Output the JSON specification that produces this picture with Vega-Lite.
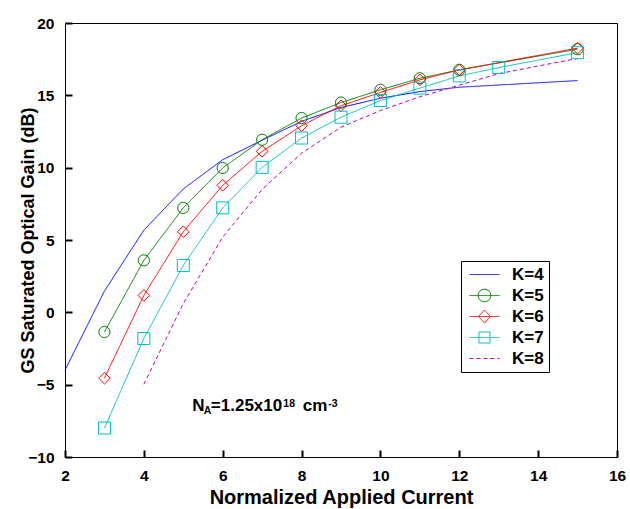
{
  "$schema": "https://vega.github.io/schema/vega-lite/v6.json",
  "width": 552,
  "height": 434,
  "autosize": {"type": "none"},
  "padding": {"left": 65, "top": 23, "right": 13, "bottom": 52},
  "background": "white",
  "config": {
    "view": {"stroke": "black", "strokeWidth": 1},
    "axis": {
      "grid": false,
      "domain": false,
      "labelFlush": false,
      "labelFont": "Liberation Sans",
      "labelFontWeight": "bold",
      "labelFontSize": 15.5,
      "labelColor": "black",
      "titleFont": "Liberation Sans",
      "titleFontWeight": "bold",
      "titleColor": "black"
    }
  },
  "datasets": {
    "curves": [
      {"K": "K=4", "x": 2, "y": -4.0},
      {"K": "K=4", "x": 3, "y": 1.47},
      {"K": "K=4", "x": 4, "y": 5.68},
      {"K": "K=4", "x": 5, "y": 8.53},
      {"K": "K=4", "x": 6, "y": 10.55},
      {"K": "K=4", "x": 7, "y": 11.9},
      {"K": "K=4", "x": 8, "y": 13.2},
      {"K": "K=4", "x": 9, "y": 14.16},
      {"K": "K=4", "x": 10, "y": 14.8},
      {"K": "K=4", "x": 11, "y": 15.26},
      {"K": "K=4", "x": 12, "y": 15.56},
      {"K": "K=4", "x": 15, "y": 16.02},
      {"K": "K=5", "x": 3, "y": -1.36},
      {"K": "K=5", "x": 4, "y": 3.59},
      {"K": "K=5", "x": 5, "y": 7.22},
      {"K": "K=5", "x": 6, "y": 9.98},
      {"K": "K=5", "x": 7, "y": 11.93},
      {"K": "K=5", "x": 8, "y": 13.43},
      {"K": "K=5", "x": 9, "y": 14.5},
      {"K": "K=5", "x": 10, "y": 15.38},
      {"K": "K=5", "x": 11, "y": 16.18},
      {"K": "K=5", "x": 12, "y": 16.76},
      {"K": "K=5", "x": 15, "y": 18.19},
      {"K": "K=6", "x": 3, "y": -4.55},
      {"K": "K=6", "x": 4, "y": 1.17},
      {"K": "K=6", "x": 5, "y": 5.57},
      {"K": "K=6", "x": 6, "y": 8.78},
      {"K": "K=6", "x": 7, "y": 11.13},
      {"K": "K=6", "x": 8, "y": 12.9},
      {"K": "K=6", "x": 9, "y": 14.28},
      {"K": "K=6", "x": 10, "y": 15.2},
      {"K": "K=6", "x": 11, "y": 16.07},
      {"K": "K=6", "x": 12, "y": 16.76},
      {"K": "K=6", "x": 15, "y": 18.26},
      {"K": "K=7", "x": 3, "y": -8.0},
      {"K": "K=7", "x": 4, "y": -1.81},
      {"K": "K=7", "x": 5, "y": 3.24},
      {"K": "K=7", "x": 6, "y": 7.22},
      {"K": "K=7", "x": 7, "y": 10.02},
      {"K": "K=7", "x": 8, "y": 12.05},
      {"K": "K=7", "x": 9, "y": 13.49},
      {"K": "K=7", "x": 10, "y": 14.64},
      {"K": "K=7", "x": 11, "y": 15.5},
      {"K": "K=7", "x": 12, "y": 16.34},
      {"K": "K=7", "x": 13, "y": 16.92},
      {"K": "K=7", "x": 15, "y": 17.95},
      {"K": "K=8", "x": 4, "y": -4.97},
      {"K": "K=8", "x": 5, "y": 0.6},
      {"K": "K=8", "x": 6, "y": 5.2},
      {"K": "K=8", "x": 7, "y": 8.5},
      {"K": "K=8", "x": 8, "y": 11.0},
      {"K": "K=8", "x": 9, "y": 12.8},
      {"K": "K=8", "x": 10, "y": 13.95},
      {"K": "K=8", "x": 11, "y": 14.9},
      {"K": "K=8", "x": 12, "y": 15.7},
      {"K": "K=8", "x": 13, "y": 16.5},
      {"K": "K=8", "x": 15, "y": 17.55}
    ],
    "note": [
      {"x": 5.23, "y": -6.85, "n": "N", "a": "A", "v": "=1.25x10", "e": "18", "u": "cm", "m": "-3"}
    ]
  },
  "layer": [
    {
      "data": {"name": "curves"},
      "mark": {"type": "line", "strokeWidth": 1},
      "encoding": {
        "x": {"field": "x", "type": "quantitative",
              "scale": {"domain": [2, 16], "nice": false, "zero": false},
              "axis": {"orient": "bottom", "values": [2, 4, 6, 8, 10, 12, 14, 16], "title": "Normalized Applied Current",
                       "titleFontSize": 20, "labelPadding": 18, "titlePadding": 4,
                       "ticks": true, "tickSize": -7, "tickWidth": 2, "tickColor": "#000000", "tickOpacity": 1}},
        "y": {"field": "y", "type": "quantitative",
              "scale": {"domain": [-10, 20], "nice": false, "zero": false},
              "axis": {"orient": "left", "values": [-10, -5, 0, 5, 10, 15, 20], "title": "GS Saturated Optical Gain (dB)",
                       "titleFontSize": 18, "labelPadding": 18, "titlePadding": -10,
                       "ticks": true, "tickSize": -7, "tickWidth": 2, "tickColor": "#000000", "tickOpacity": 1}},
        "color": {"field": "K", "type": "nominal",
                  "scale": {"domain": ["K=4", "K=5", "K=6", "K=7", "K=8"], "range": ["#0000ff", "#008000", "#ff0000", "#00bfbf", "#bf00bf"]},
                  "legend": {
                    "orient": "none", "legendX": 396, "legendY": 238, "title": null,
                    "padding": 5, "strokeColor": "black", "fillColor": "white",
                    "labelFont": "Liberation Sans", "labelFontSize": 17, "labelFontWeight": "bold", "labelColor": "black",
                    "symbolSize": 144, "symbolOffset": 10, "labelOffset": 19, "rowPadding": 3,
                    "encode": {
                      "symbols": {
                        "update": {
                          "shape": {"signal": "datum.value === 'K=5' ? 'M-2.5,0H2.5M1.05,0A1.05,1.05,0,1,1,-1.05,0A1.05,1.05,0,1,1,1.05,0' : datum.value === 'K=6' ? 'M-2.5,0H2.5M0,-1.08L1,0L0,1.08L-1,0Z' : datum.value === 'K=7' ? 'M-2.5,0H2.5M-0.92,-0.92H0.92V0.92H-0.92Z' : 'M-2.5,0H2.5'"},
                          "strokeDash": {"signal": "datum.value === 'K=8' ? [4, 3] : [1, 0]"},
                          "fill": {"value": "transparent"},
                          "stroke": {"scale": "color", "field": "value"},
                          "strokeWidth": {"value": 1},
                          "opacity": {"value": 1}
                        }
                      }
                    }
                  }},
        "strokeDash": {"field": "K", "type": "nominal",
                       "scale": {"domain": ["K=4", "K=5", "K=6", "K=7", "K=8"], "range": [[1, 0], [1, 0], [1, 0], [1, 0], [4, 3]]},
                       "legend": null}
      }
    },
    {
      "data": {"name": "curves"},
      "transform": [{"filter": "datum.K === 'K=5' || datum.K === 'K=6' || datum.K === 'K=7'"}],
      "mark": {"type": "point", "filled": false, "strokeWidth": 1, "opacity": 1},
      "encoding": {
        "x": {"field": "x", "type": "quantitative"},
        "y": {"field": "y", "type": "quantitative"},
        "color": {"field": "K", "type": "nominal", "legend": null},
        "shape": {"field": "K", "type": "nominal",
                  "scale": {"domain": ["K=5", "K=6", "K=7"], "range": ["circle", "diamond", "square"]}, "legend": null},
        "size": {"field": "K", "type": "nominal",
                 "scale": {"domain": ["K=5", "K=6", "K=7"], "range": [126, 144, 121]}, "legend": null}
      }
    },
    {
      "data": {"name": "note"},
      "mark": {"type": "text", "align": "left", "baseline": "alphabetic", "font": "Liberation Sans", "fontWeight": "bold", "fontSize": 17, "color": "black"},
      "encoding": {"x": {"field": "x", "type": "quantitative"}, "y": {"field": "y", "type": "quantitative"}, "text": {"field": "n"}}
    },
    {
      "data": {"name": "note"},
      "mark": {"type": "text", "align": "left", "baseline": "alphabetic", "font": "Liberation Sans", "fontWeight": "bold", "fontSize": 10.5, "dx": 11.5, "dy": 3, "color": "black"},
      "encoding": {"x": {"field": "x", "type": "quantitative"}, "y": {"field": "y", "type": "quantitative"}, "text": {"field": "a"}}
    },
    {
      "data": {"name": "note"},
      "mark": {"type": "text", "align": "left", "baseline": "alphabetic", "font": "Liberation Sans", "fontWeight": "bold", "fontSize": 17, "dx": 18.5, "color": "black"},
      "encoding": {"x": {"field": "x", "type": "quantitative"}, "y": {"field": "y", "type": "quantitative"}, "text": {"field": "v"}}
    },
    {
      "data": {"name": "note"},
      "mark": {"type": "text", "align": "left", "baseline": "alphabetic", "font": "Liberation Sans", "fontWeight": "bold", "fontSize": 10.5, "dx": 91, "dy": -4.5, "color": "black"},
      "encoding": {"x": {"field": "x", "type": "quantitative"}, "y": {"field": "y", "type": "quantitative"}, "text": {"field": "e"}}
    },
    {
      "data": {"name": "note"},
      "mark": {"type": "text", "align": "left", "baseline": "alphabetic", "font": "Liberation Sans", "fontWeight": "bold", "fontSize": 17, "dx": 110.5, "color": "black"},
      "encoding": {"x": {"field": "x", "type": "quantitative"}, "y": {"field": "y", "type": "quantitative"}, "text": {"field": "u"}}
    },
    {
      "data": {"name": "note"},
      "mark": {"type": "text", "align": "left", "baseline": "alphabetic", "font": "Liberation Sans", "fontWeight": "bold", "fontSize": 10.5, "dx": 136, "dy": -4.5, "color": "black"},
      "encoding": {"x": {"field": "x", "type": "quantitative"}, "y": {"field": "y", "type": "quantitative"}, "text": {"field": "m"}}
    }
  ]
}
